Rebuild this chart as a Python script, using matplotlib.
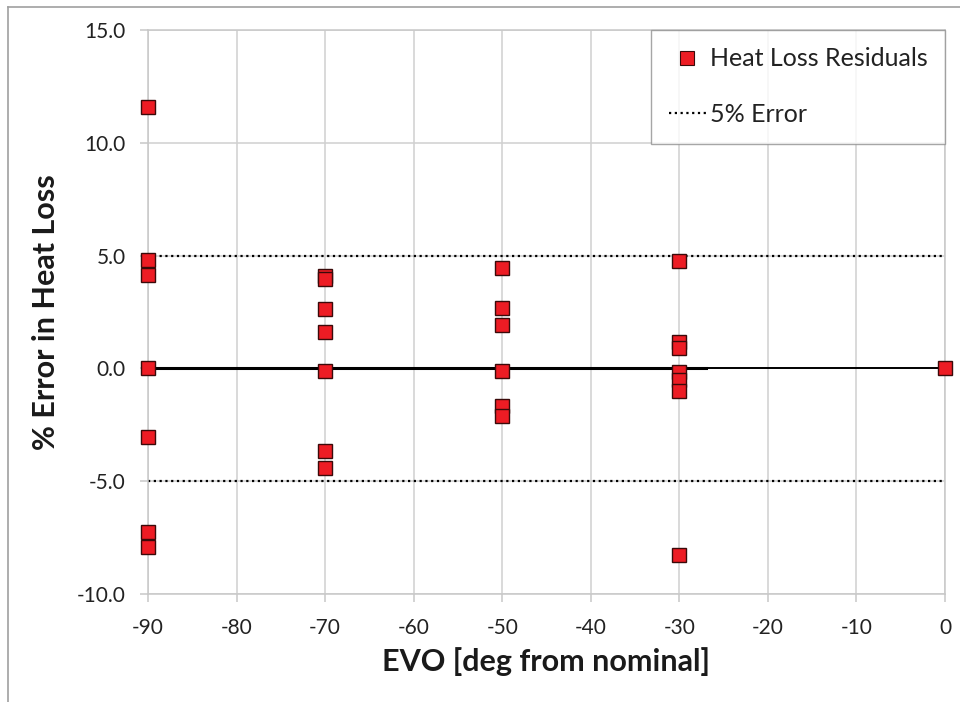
import matplotlib
matplotlib.use('Agg')
import matplotlib.pyplot as plt
from matplotlib.lines import Line2D

# Residuos de pérdida de calor por ángulo EVO
evo_90 = [11.6, 4.8, 4.15, 0.0, -3.05, -7.25, -7.9]
evo_70 = [4.1, 3.97, 2.65, 1.6, -0.12, -3.65, -4.4]
evo_50 = [4.45, 2.68, 1.94, -0.12, -1.68, -2.13]
evo_30 = [4.75, 1.15, 0.9, -0.15, -0.52, -1.0, -8.25]
evo_0 = [0.0]
angulos = [-90, -70, -50, -30, 0]
residuos = [evo_90, evo_70, evo_50, evo_30, evo_0]

# Líneas de referencia
limite_error = 5.0
rango_x = [-90, 0]
rango_tendencia = [-90, -27]

x_ticks = list(range(-90, 1, 10))
y_ticks = [-10.0, -5.0, 0.0, 5.0, 10.0, 15.0]

plt.rcParams['font.family'] = ['Lato', 'DejaVu Sans']
plt.rcParams['axes.unicode_minus'] = False

fig = plt.figure(figsize=(9.6, 7.02), dpi=100)
ax = fig.add_axes([148 / 960, 1 - 594 / 702, (945 - 148) / 960, (594 - 30) / 702])

xs, ys = [], []
for ang, vals in zip(angulos, residuos):
    xs += [ang] * len(vals)
    ys += vals

estilo_punteado = (0, (1, 1.6))
for signo in (1, -1):
    ax.plot(rango_x, [signo * limite_error] * 2, color='black', lw=1.6,
            linestyle=estilo_punteado, zorder=2)
ax.plot(rango_x, [0, 0], color='black', lw=1.4, zorder=2)
ax.plot(rango_tendencia, [0, 0], color='black', lw=2.2, zorder=2)

ax.plot(xs, ys, linestyle='none', marker='s', markersize=10,
        markerfacecolor='#ed1c24', markeredgecolor='#3a0a0a',
        markeredgewidth=1.0, zorder=3, clip_on=False)

ax.set_xlim(-90, 0)
ax.set_ylim(-10, 15)
ax.set_xticks(x_ticks)
ax.set_yticks(y_ticks)
ax.set_yticklabels([f'{v:.1f}' for v in y_ticks])
ax.grid(True, color='#d0d0d0', lw=1.1, zorder=0)
ax.set_axisbelow(True)
for s in ax.spines.values():
    s.set_color('#c8c8c8')
    s.set_linewidth(1.1)
ax.tick_params(axis='both', length=6, width=1.1, color='#c8c8c8',
               labelsize=15, labelcolor='#222222', pad=10)
ax.tick_params(axis='x', pad=11)

ax.set_xlabel('EVO [deg from nominal]', fontsize=22, fontweight='bold',
              color='#1a1a1a', labelpad=7)
ax.set_ylabel('% Error in Heat Loss', fontsize=22, fontweight='bold',
              color='#1a1a1a', labelpad=12)

handles = [
    Line2D([], [], linestyle='none', marker='s', markersize=10,
           markerfacecolor='#ed1c24', markeredgecolor='#3a0a0a',
           markeredgewidth=0.8),
    Line2D([], [], color='black', lw=1.6, linestyle=estilo_punteado),
]
leg = ax.legend(handles, ['Heat Loss Residuals', '5% Error'],
                loc='upper right', bbox_to_anchor=(1.0, 1.0), fontsize=18,
                frameon=True, fancybox=False, borderpad=0.7,
                labelspacing=1.3, handlelength=1.5, handletextpad=0.15,
                borderaxespad=0.0)
leg.get_frame().set_edgecolor('#909090')
leg.get_frame().set_linewidth(1.0)
for t in leg.get_texts():
    t.set_color('#222222')

# marco exterior del gráfico
fig.add_artist(Line2D([8 / 960, 8 / 960], [0, 1 - 7 / 702],
                      transform=fig.transFigure, color='#a0a0a0', lw=1.2))
fig.add_artist(Line2D([8 / 960, 1], [1 - 7 / 702, 1 - 7 / 702],
                      transform=fig.transFigure, color='#a0a0a0', lw=1.2))

fig.savefig('out.png', dpi=100, facecolor='white')
plt.close(fig)
